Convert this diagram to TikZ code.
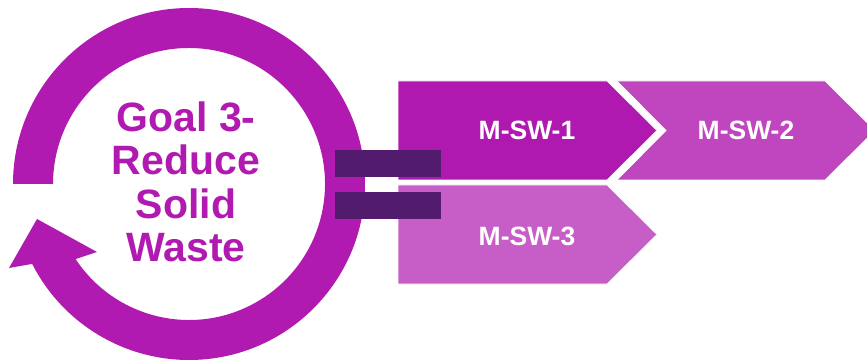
\documentclass[tikz,border=0pt]{standalone}
\usepackage{fontspec}
\setmainfont{Liberation Sans}
\usetikzlibrary{calc}

\definecolor{ringpurple}{HTML}{B11AB1}
\definecolor{swone}{HTML}{AF19AF}
\definecolor{swtwo}{HTML}{BF46BF}
\definecolor{swthree}{HTML}{C75EC8}
\definecolor{bardark}{HTML}{521B6D}

\begin{document}
\begin{tikzpicture}[x=0.03cm, y=0.03cm,
    chev/.style={draw=white, line width=0.6pt},
    lbl/.style={text=white, font=\bfseries\fontsize{22.6}{26}\selectfont},
    bar/.style={fill=bardark, minimum width=3.18cm, minimum height=0.81cm, inner sep=0pt}
]
\useasboundingbox (0,0) rectangle (867,360);
\clip (0,0) rectangle (867,360);
\coordinate (c) at (189,176);
\fill[ringpurple] ($(c)+(180:176)$) arc[start angle=180, end angle=-153, radius=176]
    -- (9,92) -- (37,141) -- (97,108) -- ($(c)+(-146.5:136)$)
    arc[start angle=-146.5, end angle=180, radius=136] -- cycle;
\node[text=ringpurple, align=center, font=\bfseries\fontsize{35}{37}\selectfont] (goal) at (186,178) {Goal 3-\\Reduce\\Solid\\Waste};

\filldraw[chev, fill=swone] (398,279) -- (607,279) -- (657,229.5) -- (607,180) -- (398,180) -- cycle;
\filldraw[chev, fill=swtwo] (617,279) -- (825,279) -- (875,229.5) -- (825,180) -- (617,180) -- (666,229.5) -- cycle;
\filldraw[chev, fill=swthree] (398,175) -- (607,175) -- (657,125.5) -- (607,76) -- (398,76) -- cycle;
\node[lbl] (sw1) at (527,229.5) {M-SW-1};
\node[lbl] (sw2) at (746,229.5) {M-SW-2};
\node[lbl] (sw3) at (527,124) {M-SW-3};

\node[bar] (eq1) at (388,196.5) {};
\node[bar] (eq2) at (388,154.5) {};
\end{tikzpicture}
\end{document}
